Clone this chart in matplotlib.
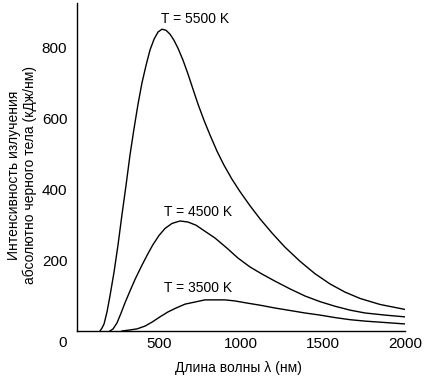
import matplotlib
matplotlib.use("Agg")
import matplotlib.pyplot as plt

plt.rcParams['font.family'] = ['Liberation Sans', 'DejaVu Sans']

# -----------------------------
# Values (wavelength nm, intensity)
# -----------------------------
wl_5500 = [140, 152, 165, 183, 201, 226, 250, 274, 299, 323, 348, 372, 396,
           421, 445, 470, 494, 518, 543, 567, 591, 616, 646, 677, 707, 738,
           774, 811, 854, 896, 945, 994, 1055, 1116, 1189, 1268, 1360, 1451,
           1543, 1634, 1726, 1848, 2000]
val_5500 = [0, 8, 20, 54, 99, 167, 243, 328, 412, 497, 573, 641, 701,
            751, 794, 825, 845, 853, 850, 839, 822, 799, 766, 726, 684, 641,
            596, 554, 508, 469, 429, 394, 354, 317, 277, 237, 197, 162,
            133, 110, 92, 75, 61]

wl_4500 = [201, 220, 244, 268, 293, 323, 354, 396, 433, 463, 500, 537, 579,
           628, 677, 726, 780, 841, 915, 982, 1055, 1128, 1207, 1299, 1390,
           1482, 1573, 1665, 1756, 1878, 2000]
val_4500 = [0, 6, 23, 50, 80, 113, 146, 186, 219, 244, 270, 290, 304,
            311, 308, 299, 282, 263, 234, 206, 181, 161, 141, 119, 99,
            83, 70, 59, 51, 45, 40]

wl_3500 = [274, 323, 366, 415, 457, 506, 555, 604, 659, 720, 780, 841, 902,
           963, 1037, 1116, 1207, 1299, 1390, 1482, 1573, 1665, 1756, 1878,
           2000]
val_3500 = [0, 3, 6, 14, 25, 40, 54, 65, 76, 82, 88, 88, 88,
            85, 79, 73, 65, 58, 51, 45, 38, 32, 28, 24, 20]

x_ticks = [500, 1000, 1500, 2000]
y_ticks = [200, 400, 600, 800]

labels = ["T = 5500 K", "T = 4500 K", "T = 3500 K"]
label_pos = [(720, 881), (738, 336), (738, 121)]

# -----------------------------
# Plot
# -----------------------------
fig = plt.figure(figsize=(4.24, 3.78), dpi=100)
ax = fig.add_axes([0.1816, 0.1243, 0.7736, 0.8677])

for wl, val in [(wl_5500, val_5500), (wl_4500, val_4500), (wl_3500, val_3500)]:
    ax.plot(wl, val, color='black', lw=1.0)

for text, (tx, ty) in zip(labels, label_pos):
    ax.text(tx, ty, text, fontsize=10, ha='center', va='center')

ax.set_xlim(0, 2000)
ax.set_ylim(0, 927)
ax.set_xticks(x_ticks)
ax.set_yticks(y_ticks)
ax.tick_params(axis='both', length=0, labelsize=11)
ax.tick_params(axis='x', pad=4.5)
ax.tick_params(axis='y', pad=7)

for side in ['top', 'right']:
    ax.spines[side].set_visible(False)
for side in ['left', 'bottom']:
    ax.spines[side].set_linewidth(1.0)

# corner zero
fig.text(63 / 424, 1 - 343 / 378, "0", fontsize=11, ha='center', va='center')

fig.text(238 / 424, 1 - 368 / 378, "Длина волны λ (нм)", fontsize=10,
         ha='center', va='center')
fig.text(22 / 424, 1 - 175 / 378,
         "Интенсивность излучения\nабсолютно черного тела (кДж/нм)",
         fontsize=10, ha='center', va='center', rotation=90, linespacing=1.2)

fig.savefig("out.png", dpi=100)
